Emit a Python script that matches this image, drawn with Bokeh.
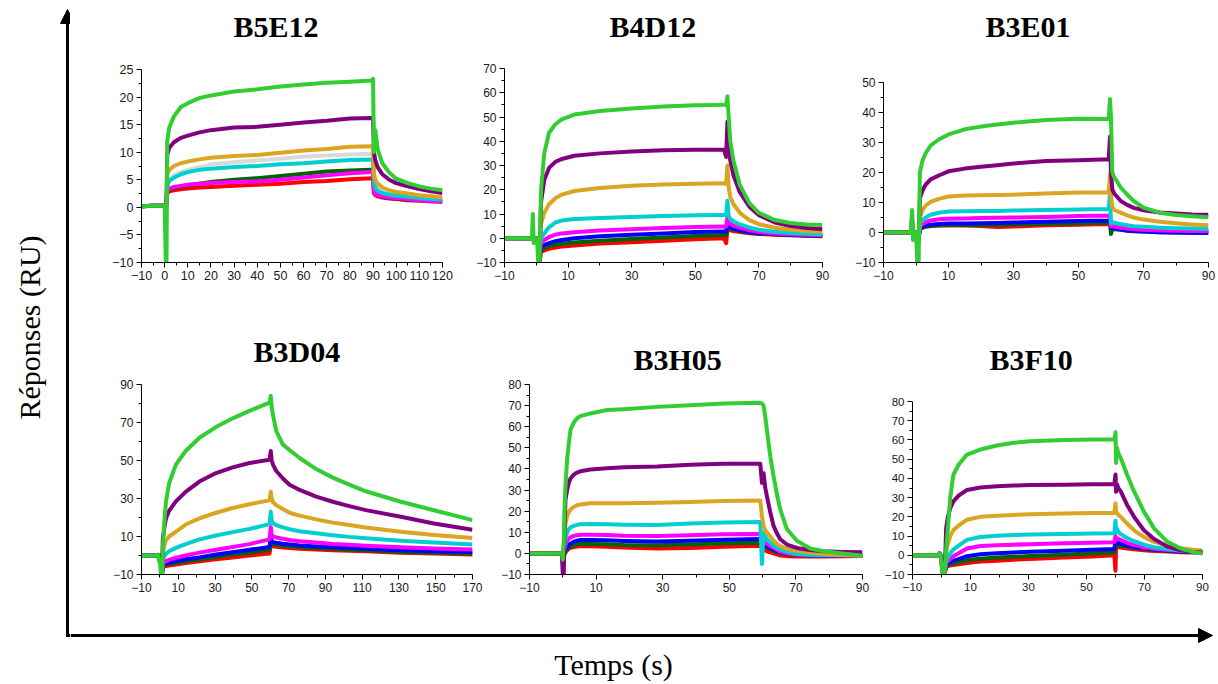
from bokeh.plotting import figure
from bokeh.models import Range1d, FixedTicker, Arrow, NormalHead, ColumnDataSource
from bokeh.layouts import row, column
from bokeh.embed import file_html
from bokeh.resources import INLINE
from bokeh.core.properties import value

# ---------------- data ----------------
# B5E12
b5e12_t = [-10, -5, 0, 0.5, 0.8, 1.1, 2, 4, 7, 10, 15, 20, 30, 40, 50, 60, 70, 80, 89.5, 90, 90.4, 91, 92, 94, 97, 100, 105, 110, 115, 120]
b5e12_green = [0.2, 0.3, 0.3, -10, -10, 12.0, 14.5, 16.5, 18.2, 18.9, 19.8, 20.3, 21.0, 21.4, 21.9, 22.3, 22.6, 22.8, 23.0, 23.3, 10.0, 14.0, 10.5, 8.0, 6.3, 5.2, 4.4, 3.8, 3.4, 3.1]
b5e12_purple = [0.2, 0.3, 0.3, 0.2, 0.5, 9.5, 10.8, 11.8, 12.6, 13.0, 13.6, 14.0, 14.5, 14.6, 15.0, 15.4, 15.7, 16.1, 16.2, 16.2, 10.0, 8.5, 7.3, 6.0, 5.0, 4.4, 3.8, 3.3, 2.9, 2.6]
b5e12_gold = [0.2, 0.3, 0.3, 0.2, 0.5, 6.0, 6.8, 7.5, 8.0, 8.3, 8.7, 9.0, 9.3, 9.5, 9.9, 10.3, 10.6, 11.0, 11.1, 11.1, 6.0, 5.0, 4.3, 3.6, 3.1, 2.8, 2.5, 2.2, 2.0, 1.8]
b5e12_gray = [0.2, 0.3, 0.3, 0.0, 0.3, 4.0, 5.0, 5.8, 6.4, 6.8, 7.3, 7.8, 8.2, 8.5, 8.8, 9.2, 9.4, 9.6, 9.7, 9.7, 5.0, 4.0, 3.3, 2.8, 2.5, 2.2, 2.0, 1.8, 1.6, 1.5]
b5e12_cyan = [0.2, 0.3, 0.3, 0.2, 0.4, 3.8, 4.8, 5.4, 6.0, 6.4, 6.8, 7.0, 7.3, 7.5, 7.8, 8.0, 8.3, 8.6, 8.7, 8.7, 4.5, 3.5, 3.0, 2.6, 2.3, 2.1, 1.9, 1.7, 1.5, 1.4]
b5e12_dgreen = [0.2, 0.3, 0.3, 0.2, 0.4, 2.8, 3.2, 3.5, 3.8, 4.0, 4.3, 4.6, 5.0, 5.3, 5.7, 6.1, 6.5, 6.7, 6.8, 6.8, 3.0, 2.5, 2.2, 1.9, 1.7, 1.6, 1.4, 1.3, 1.2, 1.1]
b5e12_magenta = [0.2, 0.3, 0.3, 0.2, 0.4, 3.0, 3.4, 3.7, 3.9, 4.1, 4.3, 4.4, 4.6, 4.7, 5.0, 5.4, 5.8, 6.2, 6.4, 6.4, 2.8, 2.4, 2.2, 2.0, 1.8, 1.7, 1.5, 1.3, 1.1, 1.0]
b5e12_red = [0.2, 0.3, 0.3, 0.2, 0.4, 2.5, 2.9, 3.1, 3.3, 3.4, 3.6, 3.7, 3.9, 4.1, 4.3, 4.6, 4.8, 5.1, 5.3, 5.3, 2.5, 2.2, 2.0, 1.8, 1.6, 1.5, 1.3, 1.2, 1.1, 1.0]

# B4D12
b4d12_t = [-10, -2, -1.4, -1.1, -0.8, -0.5, 0.2, 0.6, 1.0, 1.5, 2.5, 4, 6, 8, 12, 20, 30, 40, 50, 59, 59.7, 60.1, 60.5, 61, 62, 64, 67, 70, 75, 80, 85, 90]
b4d12_green = [0, 0, 0, 10, -2, 0, 0, -10, -10, 20, 35, 43.5, 47, 49, 51, 52.5, 53.5, 54.3, 54.8, 55, 55, 58.5, 50, 40, 32, 22, 14.5, 10.5, 7.5, 6.3, 5.7, 5.5]
b4d12_purple = [0, 0, 0, 1, 0, 0, 0, 0, -10, 15, 24, 29, 31.5, 32.7, 34, 35, 35.8, 36.3, 36.5, 36.5, 33.5, 48, 38, 32, 26, 19, 13, 9.5, 6.5, 5, 4.2, 3.7]
b4d12_gold = [0, 0, 0, 0, 0, 0, 0, 0, -5, 6, 10.5, 14, 16.5, 18, 19.5, 20.7, 21.6, 22.2, 22.5, 22.7, 22.5, 30, 21, 17, 14, 10.5, 7.5, 5.8, 4.3, 3.5, 3.0, 2.7]
b4d12_cyan = [0, 0, 0, 0, 0, 0, 0, 0, -5, 0, 2, 4.5, 6.5, 7.3, 7.9, 8.4, 8.8, 9.2, 9.5, 9.6, 9.6, 15.5, 9, 8, 7, 5.7, 4.5, 3.5, 2.7, 2.2, 1.9, 1.7]
b4d12_magenta = [0, 0, 0, 0, 0, 0, 0, 0, -6, -2, -0.8, 0.5, 1.5, 2, 2.5, 3.2, 3.7, 4.2, 4.6, 4.8, 4.8, 8.5, 6.5, 6, 5.2, 4.3, 3.4, 2.6, 2.0, 1.6, 1.4, 1.2]
b4d12_blue = [0, 0, 0, 0, 0, 0, 0, 0, -7, -3.5, -2.8, -2, -1.2, -0.7, 0, 0.8, 1.4, 2.0, 2.6, 2.8, 2.8, 6, 5, 4.5, 4, 3.3, 2.6, 2.1, 1.7, 1.4, 1.2, 1.0]
b4d12_dgreen = [0, 0, 0, 0, 0, 0, 0, 0, -8, -4.5, -3.8, -3.2, -2.7, -2.3, -1.8, -1.0, -0.3, 0.3, 0.9, 1.3, 1.3, 4.5, 4.2, 4, 3.6, 3, 2.4, 2.0, 1.6, 1.3, 1.1, 1.0]
b4d12_red = [0, 0, 0, 0, 0, 0, 0, 0, -10, -5.5, -5, -4.3, -3.8, -3.4, -3, -2.2, -1.6, -1, -0.4, 0, -2, 3.5, 3.5, 3.3, 3, 2.6, 2.1, 1.8, 1.4, 1.2, 1.0, 0.8]

# B3E01
b3e01_t = [-10, -1.6, -1.2, -0.9, -0.6, 0, 0.4, 0.8, 1.2, 2, 3, 4.5, 7, 10, 15, 20, 25, 30, 40, 50, 59.3, 59.7, 60.0, 60.4, 61, 63, 65, 67, 70, 75, 80, 85, 90]
b3e01_green = [0, 0, 7.5, -2.5, 0, 0, -10, -10, 20, 24, 26.5, 29, 31, 32.7, 34.4, 35.3, 36, 36.6, 37.5, 37.9, 37.8, 44.5, 38, 20, 18.5, 15, 12.6, 10.5, 8.3, 6.6, 5.8, 5.4, 5.1]
b3e01_purple = [0, 0, 5, -1, 0, 0, 0, -3, 11.5, 14, 16, 17.7, 19, 20.4, 21.3, 21.9, 22.4, 23, 23.8, 24.1, 24.4, 32, 20, 14.3, 13, 10.5, 9.2, 8.2, 7.4, 6.7, 6.3, 6.0, 5.9]
b3e01_gold = [0, 0, 3, -1, 0, 0, 0, -2, 5, 7.5, 9, 10.2, 11.2, 12, 12.3, 12.4, 12.5, 12.6, 13, 13.3, 13.3, 19.5, 12, 8.5, 7.5, 6.6, 5.7, 5.0, 4.3, 3.6, 3.1, 2.7, 2.4]
b3e01_cyan = [0, 0, 2, -2, 0, 0, 0, -2, 3, 4, 5, 5.9, 6.6, 7.0, 7.1, 7.2, 7.2, 7.3, 7.5, 7.7, 7.8, 13, 3, 3.5, 3.3, 2.8, 2.4, 2.1, 1.9, 1.6, 1.4, 1.3, 1.2]
b3e01_magenta = [0, 0, 1, -1, 0, 0, 0, -2, 2, 2.8, 3.5, 4.0, 4.4, 4.6, 4.7, 4.8, 4.9, 5.0, 5.2, 5.5, 5.7, 5.8, 2, 2.2, 2, 1.6, 1.3, 1.1, 0.9, 0.7, 0.6, 0.5, 0.5]
b3e01_blue = [0, 0, 1, -1, 0, 0, 0, -2, 1.5, 2, 2.4, 2.6, 2.8, 3.0, 3.0, 3.1, 3.2, 3.3, 3.6, 3.8, 4.0, 4.5, 1.5, 1.6, 1.4, 1.0, 0.7, 0.5, 0.3, 0.1, 0, -0.1, -0.2]
b3e01_dgreen = [0, 0, 1, -1, 0, 0, 0, -2, 1.2, 1.6, 2.0, 2.2, 2.4, 2.5, 2.5, 2.5, 2.6, 2.7, 2.9, 3.1, 3.3, 3.3, -0.5, 1.2, 1.1, 0.9, 0.6, 0.4, 0.3, 0.1, 0, -0.1, -0.1]
b3e01_red = [0, 0, 1, -1, 0, 0, 0, -2, 1.0, 1.6, 2.0, 2.2, 2.3, 2.4, 2.3, 2.2, 1.8, 2.0, 2.4, 2.6, 2.8, 2.8, 1.5, 1.5, 1.3, 1.1, 0.9, 0.7, 0.5, 0.4, 0.3, 0.2, 0.2]

# B3D04
b3d04_t = [-10, -1.5, -1, -0.5, 0, 0.6, 1.2, 1.6, 2.4, 3.3, 5, 8.7, 14, 21.5, 30.5, 39.6, 48.7, 59.6, 60.3, 60.8, 61.5, 63.3, 66.9, 70.5, 76, 85, 94, 103, 112, 131, 149, 170]
b3d04_green = [0, 0, 0.5, -3, -3, -10, -10, 3.5, 17.7, 28.3, 38, 47.8, 55, 62, 67.6, 72.2, 76.1, 80.5, 84, 78, 74, 65.5, 58.4, 55.5, 51.3, 45.5, 41, 37.3, 33.8, 28.3, 23.8, 18.6]
b3d04_purple = [0, 0, 0, -1, 0, -3, -8, 8.8, 14.5, 19.5, 23.5, 28.5, 33.5, 38.9, 43.4, 46.4, 48.7, 50.4, 55, 50, 47.8, 44.5, 40.5, 37.2, 34.5, 31, 28.3, 26, 23.9, 20.4, 16.8, 13.6]
b3d04_gold = [0, 0, 0, -1, 0, -3, -6, 2, 5, 8, 10, 12.5, 16.3, 19.5, 22.5, 25, 27, 29, 33.5, 30, 28, 26.5, 24.5, 22.5, 21, 19, 17.3, 16, 14.7, 12.5, 10.8, 9.2]
b3d04_cyan = [0, 0, 0, -1, 0, -3, -7, -2, -0.5, 1, 2.2, 4, 6, 8.5, 10.5, 12.3, 14, 16.5, 23, 18, 17, 16, 14.8, 13.8, 12.8, 11.7, 10.7, 9.8, 9.1, 7.8, 6.8, 5.8]
b3d04_magenta = [0, 0, 0, -1, 0, -3, -8, -4, -3.5, -3, -2.3, -1.2, 0, 1.5, 3, 4.5, 6, 8.5, 15, 11, 10, 9.5, 8.8, 8.2, 7.5, 6.8, 6.1, 5.6, 5.1, 4.3, 3.7, 3.2]
b3d04_blue = [0, 0, 0, -1, 0, -3, -9, -5, -4.6, -4.2, -3.7, -3, -2, -1, 0.5, 1.7, 3, 4.5, 10, 7.5, 7, 6.7, 6.2, 5.8, 5.3, 4.8, 4.3, 3.9, 3.5, 2.8, 2.2, 1.8]
b3d04_dgreen = [0, 0, 0, -1, 0, -3, -9, -5.5, -5.1, -4.8, -4.4, -3.8, -3, -2, -0.8, 0.5, 1.5, 3, 7.5, 6.3, 6, 5.7, 5.2, 4.9, 4.5, 4.0, 3.5, 3.1, 2.8, 2.0, 1.5, 1.0]
b3d04_red = [0, 0, 0, -1, 0, -3, -10, -6, -5.8, -5.6, -5.3, -4.8, -4, -3, -2, -1, 0, 1, 5, 5, 4.8, 4.6, 4.2, 3.9, 3.6, 3.2, 2.8, 2.5, 2.2, 1.5, 1.0, 0.5]

# B3H05
b3h05_t = [-10, -1, -0.3, 0, 0.3, 0.5, 0.8, 1.3, 1.8, 2.3, 3.3, 4.3, 5.3, 8.3, 13.3, 18.3, 28.3, 38.3, 48.3, 59.3, 59.8, 60.3, 60.8, 61.3, 62.3, 63.3, 64.3, 65.3, 67.3, 70.3, 74.3, 78.3, 84, 90]
b3h05_green = [0, 0, 0, -3, 5, 20.8, 32, 44.4, 52, 58.5, 62, 64, 65, 66.3, 67.9, 68.3, 69.4, 70.2, 71, 71.3, 71, 70, 64.7, 58.5, 46, 36.5, 28, 20.8, 11.5, 6, 2.3, 1, 0, -1.1]
b3h05_purple = [0, 0, 0, -10, -10, 10, 25.5, 30, 33.4, 35.5, 37.3, 38.3, 38.9, 39.7, 40.3, 40.8, 41.2, 42, 42.5, 42.5, 33.4, 38, 31, 27, 19.5, 13, 9.5, 6.7, 4.2, 2.6, 1.6, 1.0, 0.7, 0.5]
b3h05_gold = [0, 0, 0, -2, 5, 10, 14, 17.7, 19.5, 20.8, 22, 22.8, 23.2, 23.7, 23.7, 23.7, 24, 24.3, 24.8, 25.1, 17.7, 13, 11, 9.9, 8, 6, 4.5, 3.5, 2.2, 1.2, 0.5, -0.3, -0.8, -1.1]
b3h05_cyan = [0, 0, 0, -2, 2, 4, 6.5, 9.9, 11.5, 12.3, 13, 13.5, 13.8, 13.9, 13.8, 13.6, 13.5, 14.1, 14.6, 14.9, -5, 9.9, 8, 6.7, 5, 3.6, 2.5, 1.8, 0.8, -0.3, -0.7, -0.8, -0.8, -0.8]
b3h05_magenta = [0, 0, 0, -2, 0, 2, 4, 6, 7, 7.6, 8.3, 8.6, 8.8, 8.8, 8.7, 8.4, 8.2, 8.6, 9.1, 9.2, 9, 6, 5, 4.5, 3.4, 2.5, 1.6, 0.8, 0, -0.5, -0.9, -1, -1, -1]
b3h05_blue = [0, 0, 0, -2, -1, 0.5, 2, 3, 4, 4.6, 5.5, 6, 6.3, 6.3, 6.2, 5.9, 5.6, 6, 6.5, 6.8, 6.6, 5, 4.2, 3.5, 2.6, 1.8, 1.1, 0.5, -0.1, -0.5, -0.9, -1, -1, -1]
b3h05_dgreen = [0, 0, 0, -2, -1, 0, 1, 2, 2.8, 3.3, 4, 4.3, 4.5, 4.5, 4.3, 4.0, 3.8, 4.2, 4.8, 5, 4.9, 3.8, 3.2, 2.7, 2, 1.3, 0.7, 0.2, -0.4, -0.8, -1.1, -1.2, -1.1, -1.1]
b3h05_red = [0, 0, 0, -2, -1, -0.5, 0.5, 1.5, 2.2, 2.6, 3, 3.3, 3.5, 3.4, 3.2, 2.8, 2.3, 2.6, 3.2, 3.6, 3.5, 2, 1.5, 1, 0.5, 0, -0.5, -1, -1.3, -1.5, -1.5, -1.5, -1.4, -1.2]

# B3F10
b3f10_t = [-10, -1, -0.6, -0.3, 0, 0.5, 1.1, 1.6, 2.2, 3, 4.1, 5.9, 8.8, 13.4, 19.1, 24.9, 30.6, 42.2, 52, 59.6, 60, 60.2, 60.5, 61, 61.8, 64, 66.4, 69.8, 73.3, 77.9, 82.5, 86, 90]
b3f10_green = [0, 0, 1, 0, -5, -10, -10, 3, 14, 30, 41.9, 47.1, 52.4, 55, 57.1, 58.5, 59.3, 60, 60.2, 60.2, 64, 48, 56, 53, 50.6, 41.9, 33.2, 22.7, 14, 7, 3.5, 2, 0.9]
b3f10_purple = [0, 0, 1, 0, -3, -10, -10, 14, 20, 24.4, 28, 31, 34, 35.3, 35.9, 36.3, 36.5, 36.7, 37, 37, 42, 33, 37, 35, 33.2, 26.2, 20, 13, 8.5, 4.5, 2.6, 1.9, 1.4]
b3f10_gold = [0, 0, 1, 0, -3, -6, -6, 2, 6, 10, 13, 15.5, 18.5, 20, 20.6, 21, 21.3, 21.7, 22, 22, 27, 22, 22, 21, 20, 16.5, 13, 9.5, 7, 5, 3.6, 3, 2.5]
b3f10_cyan = [0, 0, 1, 0, -3, -7, -7, -3, -1, 1, 3, 5, 8, 9.5, 10.2, 10.5, 10.8, 11.1, 11.3, 11.5, 18, 12, 14, 12, 11, 9, 7.3, 5.5, 4.2, 3.2, 2.5, 2.2, 2]
b3f10_magenta = [0, 0, 1, 0, -3, -8, -8, -4, -3, -2, -0.5, 1, 3.5, 4.8, 5.2, 5.5, 5.8, 6.2, 6.5, 6.8, 10, 8, 9, 8.5, 8, 6.5, 5.3, 4.2, 3.4, 2.8, 2.3, 2, 1.8]
b3f10_blue = [0, 0, 1, 0, -3, -9, -9, -5, -4.3, -3.5, -2.8, -2, -0.5, 0.5, 1.1, 1.5, 1.8, 2.4, 2.9, 3.3, 8, 7, 7, 6.5, 6, 5, 4.3, 3.6, 3, 2.5, 2, 1.8, 1.6]
b3f10_dgreen = [0, 0, 1, 0, -3, -9, -9, -5.5, -5, -4.5, -4, -3.5, -2.5, -1.8, -1.2, -0.8, -0.4, 0.3, 1, 1.5, 6, 5.5, 5.5, 5.2, 5, 4.5, 4, 3.3, 2.8, 2.3, 1.9, 1.7, 1.5]
b3f10_red = [0, 0, 1, 0, -3, -10, -10, -6, -5.6, -5.3, -5, -4.7, -4, -3.3, -2.8, -2.3, -1.9, -1.2, -0.6, 0, -8, 4.5, 4.5, 4.2, 4, 3.5, 3.1, 2.6, 2.2, 1.9, 1.6, 1.4, 1.3]

# tick labels
b5e12_xticks = [-10, 0, 10, 20, 30, 40, 50, 60, 70, 80, 90, 100, 110, 120]
b5e12_yticks = [-10, -5, 0, 5, 10, 15, 20, 25]
b4d12_xticks = [-10, 10, 30, 50, 70, 90]
b4d12_yticks = [-10, 0, 10, 20, 30, 40, 50, 60, 70]
b3e01_xticks = [-10, 10, 30, 50, 70, 90]
b3e01_yticks = [-10, 0, 10, 20, 30, 40, 50]
b3d04_xticks = [-10, 10, 30, 50, 70, 90, 110, 130, 150, 170]
b3d04_yticks = [-10, 10, 30, 50, 70, 90]
b3h05_xticks = [-10, 10, 30, 50, 70, 90]
b3h05_yticks = [-10, 0, 10, 20, 30, 40, 50, 60, 70, 80]
b3f10_xticks = [-10, 10, 30, 50, 70, 90]
b3f10_yticks = [-10, 0, 10, 20, 30, 40, 50, 60, 70, 80]

COLORS = {"gray": "#d9d9d9", "red": "#ff0000", "dgreen": "#006400", "blue": "#0000ff",
          "magenta": "#ff00ff", "cyan": "#00ced1", "gold": "#daa520", "purple": "#800080",
          "green": "#32cd32"}
ORDER = ["gray", "red", "dgreen", "blue", "magenta", "cyan", "gold", "purple", "green"]

# ---------------- layout constants (pixels) ----------------
PAGE_W, PAGE_H = 1216, 682
LEFT_W = 70
ROW1_TOP, ROW1_H = 0, 320
ROW2_TOP, ROW2_H = 320, 306
BOT_H = PAGE_H - ROW1_H - ROW2_H
ROW1_FT, ROW1_FB = 44, 262      # common frame top / bottom (page px)
ROW2_FT, ROW2_FB = 377, 574
TITLE_GAP = 13                  # title cap centre sits this far above its anchor


def minor_between(ticks):
    return [(a + b) / 2 for a, b in zip(ticks[:-1], ticks[1:])]


def panel(title, t, series, xr, yr, xticks, yticks, fig_x0, fig_x1, row_top, row_h,
          f_left, f_right, f_top, f_bot, ymax_px, fpx, title_left, title_cy):
    y0, y1 = yr
    scale = (f_bot - ymax_px) / (y1 - y0)
    y_end = y1 + (ymax_px - f_top) / scale
    p = figure(width=fig_x1 - fig_x0, height=row_h,
               x_range=Range1d(xr[0], xr[1]), y_range=Range1d(y0, y_end),
               output_backend="svg", toolbar_location=None,
               min_border_left=f_left - fig_x0, min_border_right=fig_x1 - f_right,
               min_border_top=f_top - row_top, min_border_bottom=row_top + row_h - f_bot)
    p.title.text = title
    p.title.align = "left"
    p.title.offset = title_left - f_left
    p.title.standoff = max(0, 2 * (f_top - title_cy - TITLE_GAP))
    p.title.text_font = "Liberation Serif"
    p.title.text_font_style = "bold"
    p.title.text_font_size = "30px"
    p.title.text_color = "#000000"
    p.outline_line_color = None
    p.xgrid.grid_line_color = None
    p.ygrid.grid_line_color = None
    p.xaxis.ticker = FixedTicker(ticks=xticks, minor_ticks=minor_between(xticks))
    p.yaxis.ticker = FixedTicker(ticks=yticks, minor_ticks=minor_between(yticks))
    p.yaxis.bounds = (y0, y1)
    for ax in (p.xaxis, p.yaxis):
        ax.axis_line_color = "#000000"
        ax.major_tick_line_color = "#000000"
        ax.minor_tick_line_color = "#000000"
        ax.major_tick_out = 5
        ax.major_tick_in = 0
        ax.minor_tick_out = 3
        ax.minor_tick_in = 0
        ax.major_label_text_font = "Liberation Sans"
        ax.major_label_text_font_size = fpx
        ax.major_label_text_color = "#1a1a1a"
        ax.major_label_standoff = 3
    for name in ORDER:
        if name not in series:
            continue
        ys = series[name]
        assert len(ys) == len(t), (title, name, len(ys), len(t))
        src = ColumnDataSource(dict(x=t, y=ys))
        p.line("x", "y", source=src, line_color=COLORS[name], line_width=4, line_join="round")
    return p


p1 = panel("B5E12", b5e12_t, {"green": b5e12_green, "purple": b5e12_purple, "gold": b5e12_gold,
                              "gray": b5e12_gray, "cyan": b5e12_cyan, "dgreen": b5e12_dgreen,
                              "magenta": b5e12_magenta, "red": b5e12_red},
           (-10, 120), (-10, 25), b5e12_xticks, b5e12_yticks,
           LEFT_W, 469, ROW1_TOP, ROW1_H, 141, 442, ROW1_FT, ROW1_FB, 69, "12.5px", 233, 29)
p2 = panel("B4D12", b4d12_t, {"green": b4d12_green, "purple": b4d12_purple, "gold": b4d12_gold,
                              "cyan": b4d12_cyan, "magenta": b4d12_magenta, "blue": b4d12_blue,
                              "dgreen": b4d12_dgreen, "red": b4d12_red},
           (-10, 90), (-10, 70), b4d12_xticks, b4d12_yticks,
           469, 850, ROW1_TOP, ROW1_H, 504, 822, ROW1_FT, ROW1_FB, 68, "12px", 609, 29)
p3 = panel("B3E01", b3e01_t, {"green": b3e01_green, "purple": b3e01_purple, "gold": b3e01_gold,
                              "cyan": b3e01_cyan, "magenta": b3e01_magenta, "blue": b3e01_blue,
                              "dgreen": b3e01_dgreen, "red": b3e01_red},
           (-10, 90), (-10, 50), b3e01_xticks, b3e01_yticks,
           850, PAGE_W, ROW1_TOP, ROW1_H, 883, 1208, ROW1_FT, ROW1_FB, 82, "12px", 985, 29)
p4 = panel("B3D04", b3d04_t, {"green": b3d04_green, "purple": b3d04_purple, "gold": b3d04_gold,
                              "cyan": b3d04_cyan, "magenta": b3d04_magenta, "blue": b3d04_blue,
                              "dgreen": b3d04_dgreen, "red": b3d04_red},
           (-10, 170), (-10, 90), b3d04_xticks, b3d04_yticks,
           LEFT_W, 494, ROW2_TOP, ROW2_H, 141, 472, ROW2_FT, ROW2_FB, 384, "12px", 253, 354)
p5 = panel("B3H05", b3h05_t, {"green": b3h05_green, "purple": b3h05_purple, "gold": b3h05_gold,
                              "cyan": b3h05_cyan, "magenta": b3h05_magenta, "blue": b3h05_blue,
                              "dgreen": b3h05_dgreen, "red": b3h05_red},
           (-10, 90), (-10, 80), b3h05_xticks, b3h05_yticks,
           494, 879, ROW2_TOP, ROW2_H, 529, 862, ROW2_FT, ROW2_FB, 384, "12px", 633, 362)
p6 = panel("B3F10", b3f10_t, {"green": b3f10_green, "purple": b3f10_purple, "gold": b3f10_gold,
                              "cyan": b3f10_cyan, "magenta": b3f10_magenta, "blue": b3f10_blue,
                              "dgreen": b3f10_dgreen, "red": b3f10_red},
           (-10, 90), (-10, 80), b3f10_xticks, b3f10_yticks,
           879, PAGE_W, ROW2_TOP, ROW2_H, 912, 1202, ROW2_FT, ROW2_FB, 401, "11.5px", 989, 362)

# ---------------- outer arrows and labels ----------------
AX_X = 67        # vertical arrow (page px)
AX_Y = 635       # horizontal arrow (page px)
left = figure(width=LEFT_W, height=PAGE_H, x_range=Range1d(0, LEFT_W), y_range=Range1d(0, PAGE_H),
              output_backend="svg", toolbar_location=None, x_axis_type=None, y_axis_type=None,
              min_border=0, min_border_left=0, min_border_right=0, min_border_top=0, min_border_bottom=0)
left.outline_line_color = None
left.grid.visible = False
left.add_layout(Arrow(end=NormalHead(size=14, fill_color="black", line_color="black", line_width=1),
                      x_start=AX_X, y_start=PAGE_H - (AX_Y + 1.5), x_end=AX_X, y_end=PAGE_H - 9,
                      line_width=3, line_color="black"))
left.segment(x0=[AX_X - 1.5], y0=[PAGE_H - AX_Y], x1=[LEFT_W], y1=[PAGE_H - AX_Y],
             line_width=3, line_color="black")
left.text(x=[29], y=[PAGE_H - 327], text=["Réponses (RU)"], angle=1.5708,
          text_align="center", text_baseline="middle",
          text_font=value("Liberation Serif"), text_font_size="30px", text_color="black")

BW = PAGE_W - LEFT_W
bottom = figure(width=BW, height=BOT_H, x_range=Range1d(0, BW), y_range=Range1d(0, BOT_H),
                output_backend="svg", toolbar_location=None, x_axis_type=None, y_axis_type=None,
                min_border=0, min_border_left=0, min_border_right=0, min_border_top=0, min_border_bottom=0)
bottom.outline_line_color = None
bottom.grid.visible = False
b_top = ROW1_H + ROW2_H
bottom.add_layout(Arrow(end=NormalHead(size=14, fill_color="black", line_color="black", line_width=1),
                        x_start=0, y_start=BOT_H - (AX_Y - b_top), x_end=1212 - LEFT_W,
                        y_end=BOT_H - (AX_Y - b_top), line_width=3, line_color="black"))
bottom.text(x=[613 - LEFT_W], y=[BOT_H - (664 - b_top)], text=["Temps (s)"],
            text_align="center", text_baseline="middle",
            text_font=value("Liberation Serif"), text_font_size="30px", text_color="black")

layout = row(left, column(row(p1, p2, p3), row(p4, p5, p6), bottom))

with open("out.html", "w") as f:
    f.write(file_html(layout, INLINE))
